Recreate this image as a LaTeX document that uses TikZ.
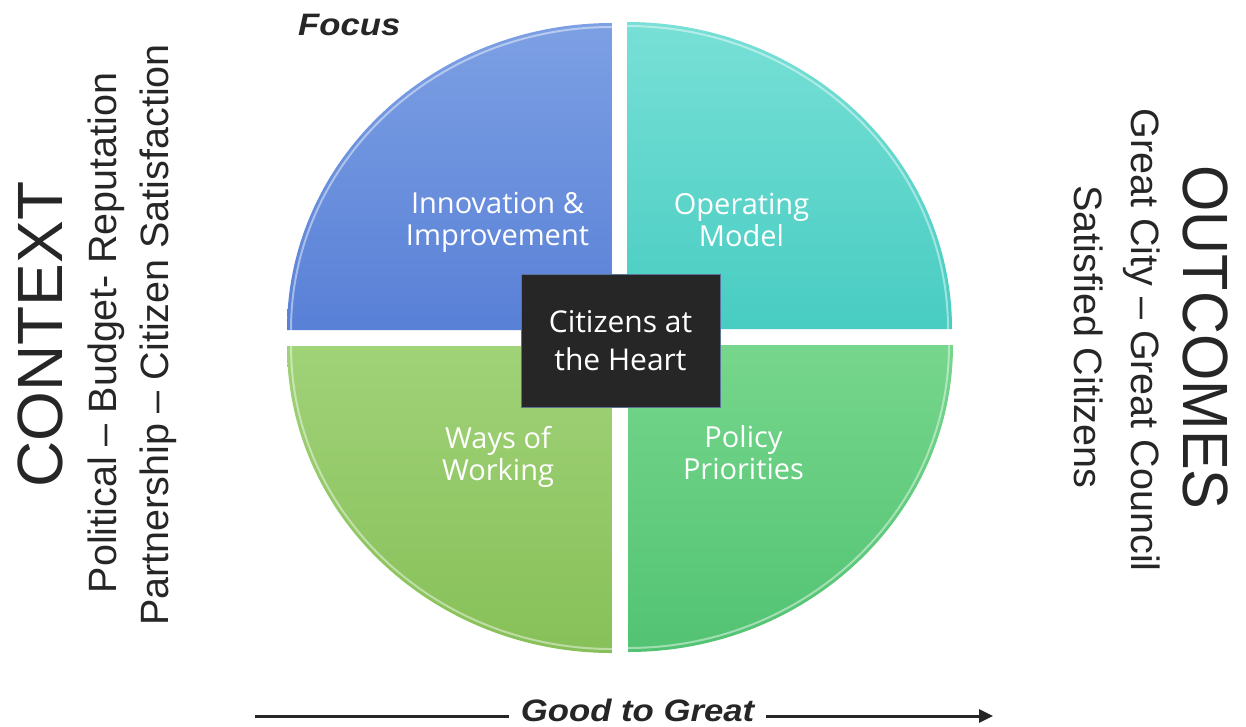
\documentclass[tikz,border=0pt]{standalone}
\usepackage{fontspec}
\newfontfamily\arialf{Liberation Sans}
\newfontfamily\osans{Open Sans}
\usetikzlibrary{arrows.meta}
\definecolor{txt}{RGB}{38,38,38}
\definecolor{bluetop}{RGB}{125,160,228}
\definecolor{bluebot}{RGB}{88,128,214}
\definecolor{tealtop}{RGB}{120,224,214}
\definecolor{tealbot}{RGB}{72,204,194}
\definecolor{lgtop}{RGB}{160,210,120}
\definecolor{lgbot}{RGB}{135,192,88}
\definecolor{rgtop}{RGB}{118,214,140}
\definecolor{rgbot}{RGB}{82,195,115}
\definecolor{boxfill}{RGB}{38,38,38}
\definecolor{boxline}{RGB}{90,115,150}
\begin{document}
\begin{tikzpicture}[x=1pt,y=-1pt,
  qlabel/.style={font=\osans\fontsize{29}{32}\selectfont, text=white, align=center, inner sep=0pt, anchor=north},
  rim/.style={draw=white, draw opacity=0.45, line width=2pt},
  bigside/.style={font=\arialf\fontsize{64}{64}\selectfont, text=txt, inner sep=0pt, anchor=base},
  smallside/.style={font=\arialf\fontsize{39.5}{40}\selectfont, text=txt, inner sep=0pt, anchor=base},
  emph/.style={font=\arialf\bfseries\itshape\fontsize{31}{31}\selectfont, text=txt, inner sep=0pt}]
\useasboundingbox (0,0) rectangle (1246,726);
\fill[white] (0,0) rectangle (1246,726);

% quadrants
\path[top color=bluetop,bottom color=bluebot] (612,330) -- (287,330) arc[start angle=180,end angle=270,x radius=325,y radius=307] -- cycle;
\path[top color=tealtop,bottom color=tealbot] (627,329) -- (627,22) arc[start angle=270,end angle=360,x radius=325,y radius=307] -- cycle;
\path[top color=lgtop,bottom color=lgbot] (612,346) -- (612,653) arc[start angle=90,end angle=180,x radius=325,y radius=307] -- cycle;
\path[top color=rgtop,bottom color=rgbot] (628,345) -- (953,345) arc[start angle=0,end angle=90,x radius=325,y radius=307] -- cycle;
% bevel rims
\draw[rim] (291,330) arc[start angle=180,end angle=270,x radius=321,y radius=303];
\draw[rim] (627,26) arc[start angle=270,end angle=360,x radius=321,y radius=303];
\draw[rim] (612,649) arc[start angle=90,end angle=180,x radius=321,y radius=303];
\draw[rim] (949,345) arc[start angle=0,end angle=90,x radius=321,y radius=303];

% labels
\node[qlabel] (innov) at (497.5,192) {Innovation \&\\Improvement};
\node[qlabel] (opmodel) at (741.5,193) {Operating\\Model};
\node[qlabel] (ways) at (498,426) {Ways of\\Working};
\node[qlabel] (policy) at (743.5,425) {Policy\\Priorities};

% centre box
\node[draw=boxline, line width=0.8pt, fill=boxfill, minimum width=199pt, minimum height=133pt, inner sep=0pt, text=white, align=center, font=\osans\fontsize{30}{38}\selectfont] (heart) at (620.5,340.5) {Citizens at\\the Heart};

% focus
\node[emph, anchor=base west] (focus) at (298,35) {\scalebox{1.12}[1]{Focus}};

% good to great arrow
\node[emph, anchor=base] (gtg) at (637.5,721) {\scalebox{1.12}[1]{Good to Great}};
\coordinate (astart) at (255,716);
\coordinate (aend) at (993,716);
\draw[line width=3pt, txt] (astart) -- ([xshift=-12pt]astart -| gtg.west);
\draw[line width=3pt, txt, -{Triangle[length=14pt,width=13pt]}] ([xshift=12pt]aend -| gtg.east) -- (aend);

% side texts
\node[bigside, rotate=90] (context) at (62,334.5) {CONTEXT};
\node[smallside, rotate=90] (pol) at (116,333) {Political – Budget- Reputation};
\node[smallside, rotate=90] (part) at (168,335) {Partnership – Citizen Satisfaction};
\node[bigside, rotate=-90] (outcomes) at (1183,337.5) {\scalebox{0.93}[1]{OUTCOMES}};
\node[smallside, rotate=-90] (great) at (1131,340) {Great City – Great Council};
\node[smallside, rotate=-90] (sat) at (1074,337) {Satisfied Citizens};
\end{tikzpicture}
\end{document}
